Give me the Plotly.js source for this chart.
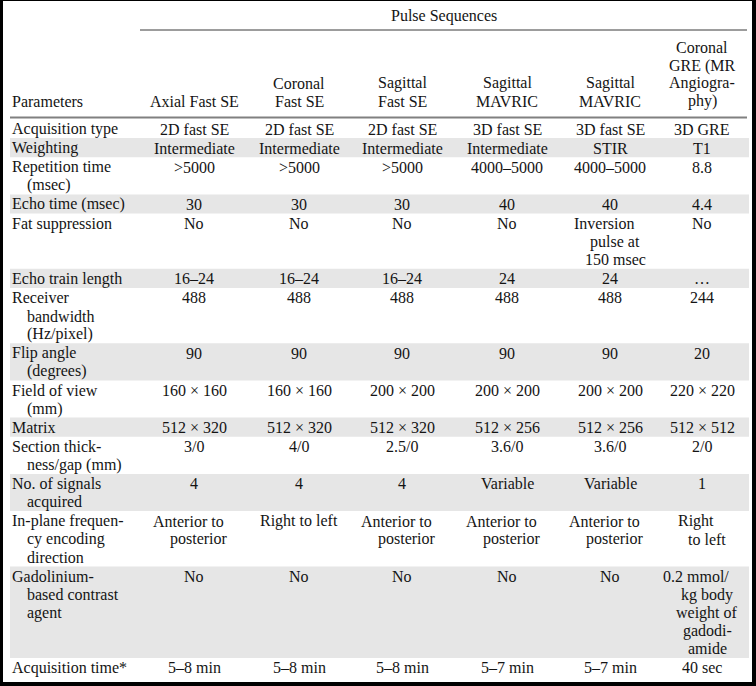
<!DOCTYPE html>
<html>
<head>
<meta charset="utf-8">
<script src="https://cdn.plot.ly/plotly-3.0.1.min.js"></script>
<style>html,body{margin:0;padding:0;background:#000;}</style>
</head>
<body>
<div id="chart" style="width:756px;height:686px;"></div>
<script>
// ---- data ----
const groupTitle = "Pulse Sequences";
const headers = [
  "Parameters",
  "Axial Fast SE",
  "Coronal<br>Fast SE",
  "Sagittal<br>Fast SE",
  "Sagittal<br>MAVRIC",
  "Sagittal<br>MAVRIC",
  "Coronal<br>GRE (MR<br>Angiogra-<br>phy)"
];
const params = [
  "Acquisition type", "Weighting", "Repetition time<br>(msec)", "Echo time (msec)",
  "Fat suppression", "Echo train length", "Receiver<br>bandwidth<br>(Hz/pixel)",
  "Flip angle<br>(degrees)", "Field of view<br>(mm)", "Matrix",
  "Section thick-<br>ness/gap (mm)", "No. of signals<br>acquired",
  "In-plane frequen-<br>cy encoding<br>direction", "Gadolinium-<br>based contrast<br>agent",
  "Acquisition time*"
];
const axialFastSE = ["2D fast SE","Intermediate",">5000","30","No","16–24","488","90","160 × 160","512 × 320","3/0","4","Anterior to<br>posterior","No","5–8 min"];
const coronalFastSE = ["2D fast SE","Intermediate",">5000","30","No","16–24","488","90","160 × 160","512 × 320","4/0","4","Right to left","No","5–8 min"];
const sagittalFastSE = ["2D fast SE","Intermediate",">5000","30","No","16–24","488","90","200 × 200","512 × 320","2.5/0","4","Anterior to<br>posterior","No","5–8 min"];
const sagittalMavric = ["3D fast SE","Intermediate","4000–5000","40","No","24","488","90","200 × 200","512 × 256","3.6/0","Variable","Anterior to<br>posterior","No","5–7 min"];
const sagittalMavricStir = ["3D fast SE","STIR","4000–5000","40","Inversion<br>pulse at<br>150 msec","24","488","90","200 × 200","512 × 256","3.6/0","Variable","Anterior to<br>posterior","No","5–7 min"];
const coronalGre = ["3D GRE","T1","8.8","4.4","No","…","244","20","220 × 220","512 × 512","2/0","1","Right<br>to left","0.2 mmol/<br>kg body<br>weight of<br>gadodi-<br>amide","40 sec"];

const columns = [axialFastSE, coronalFastSE, sagittalFastSE, sagittalMavric, sagittalMavricStir, coronalGre];

// ---- layout geometry (table styling) ----
const X0 = 3, X1 = 752, Y0 = 1, Y1 = 682;
const PARAM_X = 10, INDENT = 15;
const COL_CENTERS = [194, 299, 402, 507, 610, 702];
const GROUP_LINE = {x0: 140, x1: 747, y: 30};
const HEAD_LINE = {x0: 10, x1: 747, y: 117.5};
const HEAD_LAST_Y = 101, HEAD_LH = 17.7;
const BODY_TOP = 119, LINE_H = 18.1, ROW_PAD = 1.0, TEXT_OFF = 10;
const BAND_X0 = 10, BAND_X1 = 749;
const FONT = {family: "Liberation Serif, Times New Roman, serif", size: 16, color: "#141414"};
const BAND = "#e6e6e6";

const split = s => s.split("<br>");
const annotations = [];
const shapes = [];

function addText(x, y, text, anchor) {
  annotations.push({x: x, y: y, xref: "x", yref: "y", text: text, showarrow: false,
    xanchor: anchor, yanchor: "middle", font: FONT});
}

// white table area
shapes.push({type: "rect", xref: "x", yref: "y", x0: X0, x1: X1, y0: Y0, y1: Y1,
  fillcolor: "#ffffff", line: {width: 0}, layer: "below"});

// group title & rules
addText((GROUP_LINE.x0 + GROUP_LINE.x1) / 2, 16, groupTitle, "center");
shapes.push({type: "line", xref: "x", yref: "y", x0: GROUP_LINE.x0, x1: GROUP_LINE.x1,
  y0: GROUP_LINE.y, y1: GROUP_LINE.y, line: {color: "#3a3a3a", width: 1}});
shapes.push({type: "line", xref: "x", yref: "y", x0: HEAD_LINE.x0, x1: HEAD_LINE.x1,
  y0: HEAD_LINE.y, y1: HEAD_LINE.y, line: {color: "#808080", width: 2}});

// headers (bottom aligned)
headers.forEach((h, ci) => {
  const lines = split(h);
  lines.forEach((ln, li) => {
    const y = HEAD_LAST_Y - (lines.length - 1 - li) * HEAD_LH;
    if (ci === 0) addText(PARAM_X, y, ln, "left");
    else addText(COL_CENTERS[ci - 1], y, ln, "center");
  });
});

// body rows
let rowTop = BODY_TOP;
params.forEach((p, ri) => {
  const cells = columns.map(c => c[ri]);
  const nLines = Math.max(split(p).length, ...cells.map(c => split(c).length));
  const h = nLines * LINE_H + ROW_PAD;
  if (ri % 2 === 1) {
    shapes.push({type: "rect", xref: "x", yref: "y", x0: BAND_X0, x1: BAND_X1, y0: rowTop, y1: rowTop + h,
      fillcolor: BAND, line: {width: 0}, layer: "below"});
  }
  split(p).forEach((ln, li) => {
    addText(PARAM_X + (li > 0 ? INDENT : 0), rowTop + TEXT_OFF + li * LINE_H, ln, "left");
  });
  cells.forEach((c, ci) => {
    const lines = split(c);
    lines.forEach((ln, li) => {
      let shift = 0;
      if (lines.length > 1) shift = li === 0 ? -6 : 5;
      addText(COL_CENTERS[ci] + shift, rowTop + TEXT_OFF + li * LINE_H, ln, "center");
    });
  });
  rowTop += h;
});

const layout = {
  width: 756, height: 686,
  margin: {l: X0, r: 756 - X1, t: Y0, b: 686 - Y1, pad: 0},
  paper_bgcolor: "#000000", plot_bgcolor: "#ffffff",
  showlegend: false,
  xaxis: {range: [X0, X1], visible: false, fixedrange: true},
  yaxis: {range: [Y1, Y0], visible: false, fixedrange: true},
  shapes: shapes, annotations: annotations
};
Plotly.newPlot("chart", [{x: [], y: [], type: "scatter", mode: "markers", hoverinfo: "skip"}], layout,
  {displayModeBar: false, staticPlot: true});
</script>
</body>
</html>
